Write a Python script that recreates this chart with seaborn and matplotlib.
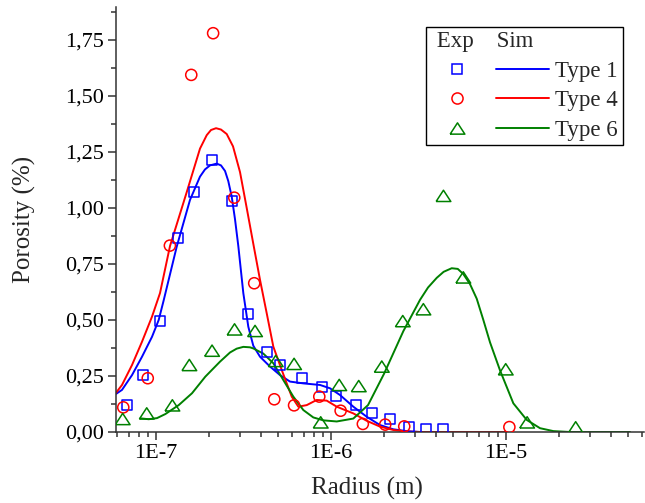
import numpy as np
import matplotlib
matplotlib.use("Agg")
import matplotlib.pyplot as plt
import seaborn as sns
from matplotlib.lines import Line2D
from matplotlib.ticker import MultipleLocator, LogLocator, FuncFormatter, NullFormatter

# ---------------- data ----------------
# Experimental pore-size distributions: radius (m) and porosity (%)
r_exp1 = [6.80e-8, 8.39e-8, 1.054e-7, 1.34e-7, 1.65e-7, 2.09e-7, 2.72e-7, 3.37e-7,
          4.32e-7, 5.11e-7, 6.86e-7, 8.85e-7, 1.07e-6, 1.39e-6, 1.72e-6, 2.17e-6,
          2.80e-6, 3.47e-6, 4.38e-6]
p_exp1 = [0.12, 0.254, 0.495, 0.867, 1.070, 1.214, 1.033, 0.527,
          0.356, 0.30, 0.24, 0.20, 0.162, 0.12, 0.086, 0.058,
          0.024, 0.012, 0.012]

r_exp4 = [6.5e-8, 8.97e-8, 1.20e-7, 1.59e-7, 2.12e-7, 2.80e-7, 3.64e-7, 4.74e-7,
          6.15e-7, 8.57e-7, 1.135e-6, 1.52e-6, 2.04e-6, 2.62e-6, 1.045e-5]
p_exp4 = [0.110, 0.240, 0.832, 1.594, 1.780, 1.046, 0.664, 0.146,
          0.119, 0.158, 0.095, 0.036, 0.033, 0.025, 0.022]

r_exp6 = [6.45e-8, 8.85e-8, 1.24e-7, 1.55e-7, 2.09e-7, 2.81e-7, 3.68e-7, 4.83e-7,
          6.15e-7, 8.73e-7, 1.114e-6, 1.44e-6, 1.95e-6, 2.57e-6, 3.37e-6, 4.39e-6,
          5.70e-6, 9.96e-6, 1.32e-5, 2.50e-5]
p_exp6 = [0.058, 0.083, 0.119, 0.299, 0.363, 0.458, 0.451, 0.317,
          0.304, 0.043, 0.21, 0.205, 0.292, 0.495, 0.548, 1.054,
          0.690, 0.28, 0.043, 0.021]

# Simulated distributions
r_sim1 = [5.907e-8, 6.393e-8, 7.293e-8, 8.318e-8, 9.488e-8, 1.036e-7, 1.104e-7, 1.313e-7,
          1.564e-7, 1.784e-7, 1.905e-7, 2.035e-7, 2.222e-7, 2.351e-7, 2.480e-7, 2.588e-7,
          2.708e-7, 2.827e-7, 2.953e-7, 3.154e-7, 3.368e-7, 3.597e-7, 3.929e-7, 4.482e-7,
          5.112e-7, 5.831e-7, 6.946e-7, 8.652e-7, 9.869e-7, 1.126e-6, 1.341e-6, 1.600e-6,
          1.905e-6, 2.270e-6, 2.708e-6, 3.226e-6, 4.786e-6]
p_sim1 = [0.170, 0.188, 0.254, 0.336, 0.425, 0.500, 0.585, 0.827,
          1.036, 1.140, 1.172, 1.190, 1.198, 1.190, 1.165, 1.120,
          1.050, 0.950, 0.830, 0.620, 0.470, 0.385, 0.336, 0.292,
          0.254, 0.225, 0.217, 0.210, 0.195, 0.165, 0.113, 0.068,
          0.031, 0.012, 0.004, 0.000, 0.000]

r_sim4 = [5.907e-8, 6.393e-8, 7.293e-8, 8.318e-8, 9.488e-8, 1.054e-7, 1.202e-7, 1.497e-7,
          1.784e-7, 1.949e-7, 2.062e-7, 2.203e-7, 2.351e-7, 2.535e-7, 2.754e-7, 3.020e-7,
          3.298e-7, 3.597e-7, 3.929e-7, 4.291e-7, 4.681e-7, 5.228e-7, 5.583e-7, 5.963e-7,
          6.504e-7, 7.264e-7, 8.284e-7, 9.450e-7, 1.078e-6, 1.341e-6, 1.600e-6, 1.905e-6,
          2.270e-6, 2.708e-6, 3.226e-6, 1.009e-5]
p_sim4 = [0.175, 0.210, 0.299, 0.403, 0.515, 0.620, 0.830, 1.070,
          1.265, 1.325, 1.348, 1.356, 1.350, 1.330, 1.275, 1.160,
          1.000, 0.840, 0.679, 0.530, 0.381, 0.277, 0.217, 0.158,
          0.113, 0.120, 0.143, 0.140, 0.113, 0.083, 0.050, 0.024,
          0.009, 0.002, 0.000, 0.000]

r_sim6 = [8.134e-8, 9.085e-8, 1.013e-7, 1.130e-7, 1.348e-7, 1.606e-7, 1.913e-7, 2.321e-7,
          2.648e-7, 2.890e-7, 3.154e-7, 3.444e-7, 3.597e-7, 4.103e-7, 4.681e-7, 5.339e-7,
          6.089e-7, 6.946e-7, 7.922e-7, 9.036e-7, 1.078e-6, 1.341e-6, 1.627e-6, 2.009e-6,
          2.589e-6, 3.226e-6, 3.584e-6, 4.018e-6, 4.400e-6, 4.894e-6, 5.300e-6, 5.702e-6,
          6.226e-6, 6.801e-6, 7.420e-6, 8.102e-6, 9.241e-6, 1.101e-5, 1.313e-5, 1.564e-5,
          1.864e-5, 2.321e-5, 5.112e-5]
p_sim6 = [0.061, 0.057, 0.062, 0.080, 0.120, 0.173, 0.247, 0.314,
          0.355, 0.372, 0.380, 0.378, 0.373, 0.350, 0.307, 0.232,
          0.158, 0.098, 0.065, 0.052, 0.047, 0.060, 0.120, 0.260,
          0.450, 0.590, 0.645, 0.688, 0.715, 0.731, 0.728, 0.705,
          0.660, 0.595, 0.500, 0.400, 0.275, 0.128, 0.054, 0.017,
          0.004, 0.000, 0.000]

type_labels = ["Type 1", "Type 4", "Type 6"]
colors = ["#0000FF", "#FF0000", "#008000"]

# ---------------- style ----------------
sns.set_style("ticks")
plt.rcParams["font.family"] = ["Liberation Serif", "DejaVu Serif"]

fig = plt.figure(figsize=(6.45, 5.03), dpi=100)
ax = fig.add_axes([116 / 645, 71 / 503, 528 / 645, 425 / 503])
ax.set_xscale("log")

# Origin-style wide triangle
tri = [(-1.0, -0.766), (1.0, -0.766), (0.0, 0.766), (-1.0, -0.766)]
markers = ["s", "o", tri]
msizes = [7.2, 8.0, 10.6]

exp_sets = [(r_exp1, p_exp1), (r_exp4, p_exp4), (r_exp6, p_exp6)]
sim_sets = [(r_sim1, p_sim1), (r_sim4, p_sim4), (r_sim6, p_sim6)]

for (rs, ps), color in zip(sim_sets, colors):
    sns.lineplot(x=rs, y=ps, ax=ax, color=color, lw=1.4,
                 estimator=None, sort=False, zorder=2)

for (re_, pe), color, mk, ms in zip(exp_sets, colors, markers, msizes):
    sns.scatterplot(x=re_, y=pe, ax=ax, marker=mk, s=ms ** 2, color=color,
                    facecolor="none", edgecolor=color, linewidth=1.1, zorder=3)

# ---------------- axes ----------------
ax.set_xlim(5.907e-8, 6.143e-5)
ax.set_ylim(0, 1.897)

ax.yaxis.set_major_locator(MultipleLocator(0.25))
ax.yaxis.set_minor_locator(MultipleLocator(0.125))
ax.yaxis.set_major_formatter(FuncFormatter(lambda v, pos: f"{v:.2f}".replace(".", ",")))

ax.xaxis.set_major_locator(LogLocator(base=10))
ax.xaxis.set_minor_locator(LogLocator(base=10, subs=range(2, 10), numticks=20))
ax.xaxis.set_minor_formatter(NullFormatter())
ax.xaxis.set_major_formatter(FuncFormatter(lambda v, pos: f"1E{int(round(np.log10(v)))}"))

spine_c = "#333333"
for side in ["top", "right"]:
    ax.spines[side].set_visible(False)
for side in ["left", "bottom"]:
    ax.spines[side].set_color(spine_c)
    ax.spines[side].set_linewidth(1.1)

ax.tick_params(which="major", direction="out", length=6, width=1.1, color=spine_c,
               labelsize=16, pad=3, labelcolor="black")
ax.tick_params(which="minor", direction="out", length=3.5, width=1.1, color=spine_c)

ax.set_xlabel("Radius (m)", fontsize=18)
ax.set_ylabel("Porosity (%)", fontsize=18)
ax.xaxis.set_label_coords(0.475, -0.105)
ax.yaxis.set_label_coords(-0.152, 0.5)

# ---------------- legend ----------------
mk_handles = [Line2D([], [], ls="none", marker=mk, ms=ms, mfc="none", mec=c, mew=1.1)
              for mk, ms, c in zip(markers, msizes, colors)]
ln_handles = [Line2D([], [], color=c, lw=1.4) for c in colors]
leg = ax.legend(mk_handles + ln_handles, [""] * 3 + type_labels, ncol=2,
                title=" Exp    Sim", alignment="left",
                loc="upper left", bbox_to_anchor=(426 / 645, 1 - 26.7 / 503),
                bbox_transform=fig.transFigure, borderaxespad=0,
                fontsize=16.5, title_fontsize=16.5, frameon=True, fancybox=False,
                edgecolor="black", framealpha=1, borderpad=0.2, labelspacing=0.37,
                handlelength=2.3, handletextpad=0.3, columnspacing=0.25)
leg.get_frame().set_linewidth(1.0)

fig.savefig("out.png", dpi=100)
